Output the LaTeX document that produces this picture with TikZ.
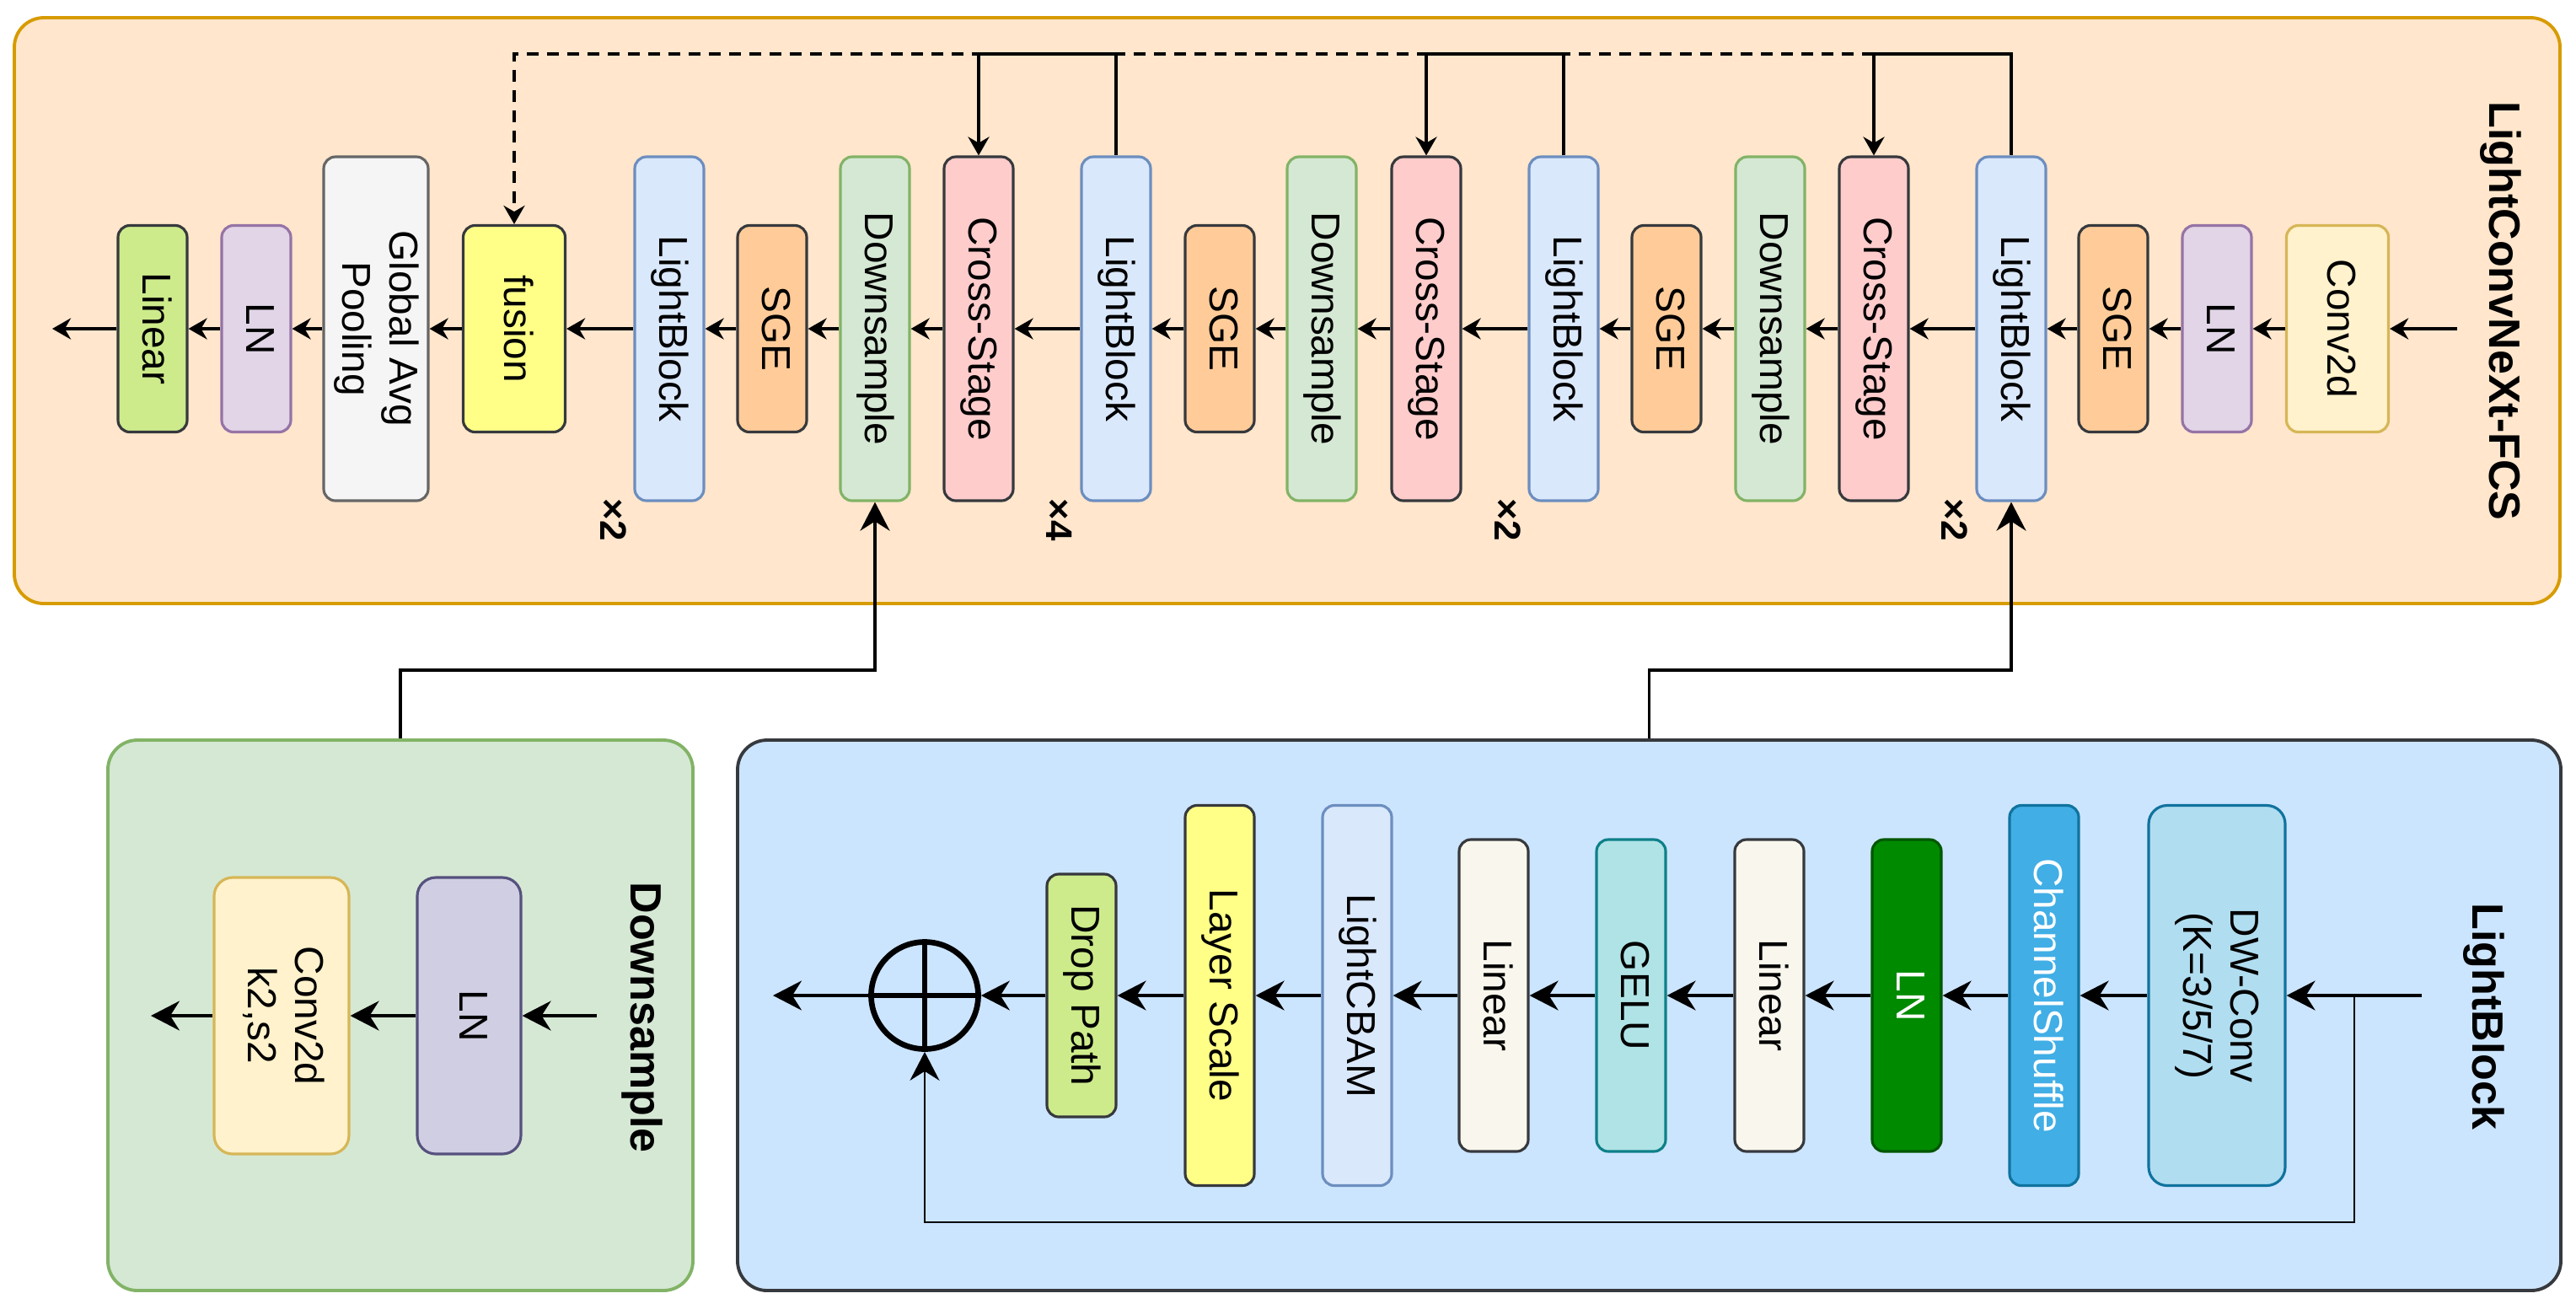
\documentclass[tikz,border=0pt]{standalone}
\usepackage{fontspec,graphicx,xcolor}
\setmainfont{Liberation Sans}
\usetikzlibrary{arrows.meta,positioning}

\definecolor{stageFill}{HTML}{FFE6CC}
\definecolor{stageLine}{HTML}{D79B00}
\definecolor{lbFill}{HTML}{DAE8FC}
\definecolor{lbLine}{HTML}{6C8EBF}
\definecolor{dsFill}{HTML}{D5E8D4}
\definecolor{dsLine}{HTML}{82B366}
\definecolor{csFill}{HTML}{FFCCCC}
\definecolor{sgeFill}{HTML}{FFCC99}
\definecolor{darkLine}{HTML}{36393D}
\definecolor{lnFill}{HTML}{E1D5E7}
\definecolor{lnLine}{HTML}{9673A6}
\definecolor{convFill}{HTML}{FFF2CC}
\definecolor{convLine}{HTML}{D6B656}
\definecolor{gapFill}{HTML}{F5F5F5}
\definecolor{gapLine}{HTML}{666666}
\definecolor{fusionFill}{HTML}{FFFF88}
\definecolor{linFill}{HTML}{CDEB8B}
\definecolor{blockFill}{HTML}{CCE5FF}
\definecolor{lnbFill}{HTML}{D0CEE2}
\definecolor{lnbLine}{HTML}{56517E}
\definecolor{mlpFill}{HTML}{F9F7ED}
\definecolor{geluFill}{HTML}{B0E3E6}
\definecolor{geluLine}{HTML}{0E8088}
\definecolor{lngFill}{HTML}{008A00}
\definecolor{lngLine}{HTML}{005700}
\definecolor{shufFill}{HTML}{41AEE6}
\definecolor{shufLine}{HTML}{10739E}
\definecolor{dwFill}{HTML}{B1DDF0}

\newcommand{\sidetext}[1]{\rotatebox{-90}{\begin{tabular}{@{}c@{}}#1\end{tabular}}}

\begin{document}
\begin{tikzpicture}[
  box/.style={rectangle, draw, rounded corners=1.4mm, line width=0.9pt, inner sep=0pt,
              minimum width=0.82cm, font=\fontsize{13.6}{16}\selectfont},
  short/.style={box, minimum height=2.45cm},
  tall/.style={box, minimum height=4.08cm},
  wide/.style={rounded corners=2.2mm},
  panel/.style={rectangle, draw, rounded corners=3.5mm, line width=1.1pt},
  title/.style={font=\fontsize{14.8}{17}\selectfont\bfseries},
  rep/.style={font=\fontsize{12.5}{14}\selectfont\bfseries},
  flow/.style={-{Stealth[length=2.2mm,width=2.5mm]}, line width=1.1pt},
  bigflow/.style={-{Stealth[length=3.4mm,width=3.5mm]}, line width=1pt},
]
  \useasboundingbox (0,0) rectangle (30.56,-15.46);

  % LightConvNeXt-FCS
  \node[panel, fill=stageFill, draw=stageLine, minimum width=30.2cm, minimum height=6.95cm] (stage) at (15.27,-3.685) {};
  \node[title] (stagetitle) at (29.65,-3.69) {\sidetext{LightConvNeXt-FCS}};

  \node[short, fill=linFill, draw=darkLine] (linear) at (1.81,-3.90) {\sidetext{Linear}};
  \node[short, fill=lnFill, draw=lnLine] (lnout) at (3.04,-3.90) {\sidetext{LN}};
  \node[tall, fill=gapFill, draw=gapLine, minimum width=1.24cm] (gap) at (4.46,-3.90) {\sidetext{Global Avg\\Pooling}};
  \node[short, fill=fusionFill, draw=darkLine, minimum width=1.21cm] (fusion) at (6.10,-3.90) {\sidetext{fusion}};
  \node[tall, fill=lbFill, draw=lbLine] (lb1) at (7.94,-3.90) {\sidetext{LightBlock}};
  \node[short, fill=sgeFill, draw=darkLine] (sge1) at (9.16,-3.90) {\sidetext{SGE}};
  \node[tall, fill=dsFill, draw=dsLine] (ds1) at (10.38,-3.90) {\sidetext{Downsample}};
  \node[tall, fill=csFill, draw=darkLine] (cs1) at (11.61,-3.90) {\sidetext{Cross-Stage}};
  \node[tall, fill=lbFill, draw=lbLine] (lb2) at (13.24,-3.90) {\sidetext{LightBlock}};
  \node[short, fill=sgeFill, draw=darkLine] (sge2) at (14.47,-3.90) {\sidetext{SGE}};
  \node[tall, fill=dsFill, draw=dsLine] (ds2) at (15.68,-3.90) {\sidetext{Downsample}};
  \node[tall, fill=csFill, draw=darkLine] (cs2) at (16.92,-3.90) {\sidetext{Cross-Stage}};
  \node[tall, fill=lbFill, draw=lbLine] (lb3) at (18.55,-3.90) {\sidetext{LightBlock}};
  \node[short, fill=sgeFill, draw=darkLine] (sge3) at (19.77,-3.90) {\sidetext{SGE}};
  \node[tall, fill=dsFill, draw=dsLine] (ds3) at (21.00,-3.90) {\sidetext{Downsample}};
  \node[tall, fill=csFill, draw=darkLine] (cs3) at (22.23,-3.90) {\sidetext{Cross-Stage}};
  \node[tall, fill=lbFill, draw=lbLine] (lb4) at (23.86,-3.90) {\sidetext{LightBlock}};
  \node[short, fill=sgeFill, draw=darkLine] (sge4) at (25.07,-3.90) {\sidetext{SGE}};
  \node[short, fill=lnFill, draw=lnLine] (lnin) at (26.30,-3.90) {\sidetext{LN}};
  \node[short, fill=convFill, draw=convLine, minimum width=1.21cm] (stem) at (27.73,-3.90) {\sidetext{Conv2d}};

  \node[rep] (rep1) at (7.28,-6.17) {\rotatebox{-90}{×2}};
  \node[rep] (rep2) at (12.57,-6.17) {\rotatebox{-90}{×4}};
  \node[rep] (rep3) at (17.89,-6.17) {\rotatebox{-90}{×2}};
  \node[rep] (rep4) at (23.19,-6.17) {\rotatebox{-90}{×2}};

  \coordinate (netin) at (29.15,-3.90);
  \coordinate (netout) at (0.62,-3.90);
  \coordinate (top) at (0,-0.64);

  \draw[flow] (netin) -- (stem);
  \draw[flow] (stem) -- (lnin);
  \draw[flow] (lnin) -- (sge4);
  \draw[flow] (sge4) -- (lb4);
  \draw[flow] (lb4) -- (cs3);
  \draw[flow] (cs3) -- (ds3);
  \draw[flow] (ds3) -- (sge3);
  \draw[flow] (sge3) -- (lb3);
  \draw[flow] (lb3) -- (cs2);
  \draw[flow] (cs2) -- (ds2);
  \draw[flow] (ds2) -- (sge2);
  \draw[flow] (sge2) -- (lb2);
  \draw[flow] (lb2) -- (cs1);
  \draw[flow] (cs1) -- (ds1);
  \draw[flow] (ds1) -- (sge1);
  \draw[flow] (sge1) -- (lb1);
  \draw[flow] (lb1) -- (fusion);
  \draw[flow] (fusion) -- (gap);
  \draw[flow] (gap) -- (lnout);
  \draw[flow] (lnout) -- (linear);
  \draw[flow] (linear) -- (netout);

  % cross-stage feedback
  \draw[flow, dash pattern=on 1.4mm off 1mm] (cs3.north |- top) -| (fusion.north);
  \draw[flow] (lb4.north) -- (lb4.north |- top) -| (cs3.north);
  \draw[flow] (lb3.north) -- (lb3.north |- top) -| (cs2.north);
  \draw[flow] (lb2.north) -- (lb2.north |- top) -| (cs1.north);

  % Downsample
  \node[panel, fill=dsFill, draw=dsLine, minimum width=6.94cm, minimum height=6.53cm] (dspanel) at (4.75,-12.045) {};
  \node[title] (dstitle) at (7.60,-12.07) {\sidetext{Downsample}};
  \node[box, wide, fill=lnbFill, draw=lnbLine, minimum width=1.23cm, minimum height=3.28cm] (dsnorm) at (5.565,-12.05) {\sidetext{LN}};
  \node[box, wide, fill=convFill, draw=convLine, minimum width=1.60cm, minimum height=3.28cm] (dsconv) at (3.34,-12.05) {\sidetext{Conv2d\\k2,s2}};
  \coordinate (dsin) at (7.08,-12.05);
  \coordinate (dsout) at (1.79,-12.05);
  \draw[bigflow] (dsin) -- (dsnorm);
  \draw[bigflow] (dsnorm) -- (dsconv);
  \draw[bigflow] (dsconv) -- (dsout);

  % LightBlock
  \node[panel, fill=blockFill, draw=darkLine, minimum width=21.63cm, minimum height=6.53cm] (lbpanel) at (19.565,-12.045) {};
  \node[title] (lbtitle) at (29.45,-12.06) {\sidetext{LightBlock}};
  \node[circle, draw, line width=1.9pt, minimum size=1.27cm, inner sep=0pt] (plus) at (10.97,-11.81) {};
  \draw[line width=1.9pt] (plus.north) -- (plus.south) (plus.west) -- (plus.east);
  \node[box, fill=linFill, draw=darkLine, minimum height=2.88cm] (drop) at (12.83,-11.81) {\sidetext{Drop Path}};
  \node[box, fill=fusionFill, draw=darkLine, minimum height=4.51cm] (scale) at (14.47,-11.81) {\sidetext{Layer Scale}};
  \node[box, fill=lbFill, draw=lbLine, minimum height=4.51cm] (cbam) at (16.10,-11.81) {\sidetext{LightCBAM}};
  \node[box, fill=mlpFill, draw=darkLine, minimum height=3.70cm] (fc2) at (17.72,-11.81) {\sidetext{Linear}};
  \node[box, fill=geluFill, draw=geluLine, minimum height=3.70cm] (gelu) at (19.35,-11.81) {\sidetext{GELU}};
  \node[box, fill=mlpFill, draw=darkLine, minimum height=3.70cm] (fc1) at (20.99,-11.81) {\sidetext{Linear}};
  \node[box, fill=lngFill, draw=lngLine, text=white, minimum height=3.70cm] (lbnorm) at (22.62,-11.81) {\sidetext{LN}};
  \node[box, fill=shufFill, draw=shufLine, text=white, minimum height=4.51cm] (shuffle) at (24.25,-11.81) {\sidetext{ChannelShuffle}};
  \node[box, wide, fill=dwFill, draw=shufLine, minimum width=1.62cm, minimum height=4.51cm] (dwconv) at (26.30,-11.81) {\sidetext{DW-Conv\\(K=3/5/7)}};
  \coordinate (lbin) at (28.73,-11.81);
  \coordinate (split) at (27.93,-11.81);
  \coordinate (lbout) at (9.17,-11.81);
  \draw[bigflow] (lbin) -- (dwconv);
  \draw[bigflow] (dwconv) -- (shuffle);
  \draw[bigflow] (shuffle) -- (lbnorm);
  \draw[bigflow] (lbnorm) -- (fc1);
  \draw[bigflow] (fc1) -- (gelu);
  \draw[bigflow] (gelu) -- (fc2);
  \draw[bigflow] (fc2) -- (cbam);
  \draw[bigflow] (cbam) -- (scale);
  \draw[bigflow] (scale) -- (drop);
  \draw[bigflow] (drop) -- (plus);
  \draw[bigflow] (plus) -- (lbout);
  \draw[bigflow, line width=0.8pt] (split) -- ++(0,-2.69) -| (plus.south);

  % detail links
  \draw[bigflow] (dspanel.north) -- ++(0,0.81) -| (ds1.south);
  \draw[bigflow] (lbpanel.north) -- ++(0,0.81) -| (lb4.south);
\end{tikzpicture}
\end{document}
